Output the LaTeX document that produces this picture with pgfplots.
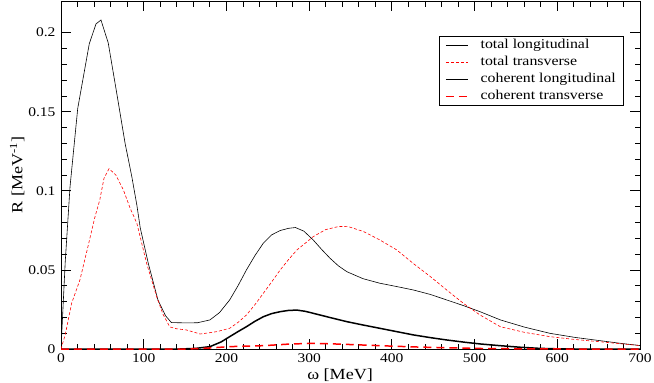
\documentclass[border=0pt]{standalone}
\usepackage{pgfplots}
\pgfplotsset{compat=1.18}
\usepackage{fontspec}
\setmainfont{Liberation Serif}[FakeStretch=1.17]
\newcommand{\legfont}{\fontsize{13.6}{15}\selectfont}
\newcommand{\labfont}{\fontsize{15.5}{17}\selectfont}
\begin{document}
\begin{tikzpicture}
\begin{axis}[
    name=ax,
    scale only axis,
    width=579bp, height=348bp,
    xmin=0, xmax=700, ymin=0, ymax=0.22,
    xtick={0,100,...,700},
    ytick={0,0.05,0.1,0.15,0.2},
    minor x tick num=4, minor y tick num=4,
    tick align=inside,
    major tick length=10bp, minor tick length=5.5bp,
    tick style={black, line width=0.8pt},
    axis line style={line width=0.9pt},
    /pgf/number format/assume math mode=true,
    yticklabel style={/pgf/number format/fixed, /pgf/number format/precision=2, xshift=-2bp},
    xticklabel style={yshift=-1bp},
    scaled y ticks=false,
    ticklabel style={font=\fontsize{13.3}{15}\selectfont},
    xlabel={\labfont ω [MeV]},
    ylabel={\labfont R [MeV\textsuperscript{-1}]},
    xlabel style={at={(0.482,0)}, anchor=base, yshift=-30bp},
    ylabel style={yshift=-3bp},
    legend style={at={(0.9706,0.899)}, anchor=north east, draw=black,
        row sep=2bp, inner xsep=6bp, inner ysep=1.5bp,
        nodes={inner sep=1bp, text height=10bp, text depth=3bp}},
    legend image code/.code={\draw[#1] (0bp,0bp) -- (22bp,0bp); \path (33bp,0bp);},
    legend cell align=left,
]
\addplot[black, line width=0.6pt] coordinates {
(0,0) (5.1,0.055) (10.9,0.1025) (20.2,0.152) (34.2,0.193) (42.3,0.2055) (48.3,0.208)
(57.1,0.1935) (67.3,0.162) (77.5,0.130) (85.6,0.109) (91.7,0.091) (95.8,0.0766)
(105.6,0.054) (117.2,0.031) (126.4,0.021) (133.5,0.0167) (151.9,0.0165) (165.1,0.0166)
(180.1,0.0184) (191.6,0.023) (203.9,0.031) (214,0.040) (224.2,0.050) (234.4,0.059)
(244.6,0.0669) (254.8,0.0722) (265,0.0749) (275.2,0.0763) (283.4,0.0768) (293.6,0.0745)
(304.8,0.069) (315,0.063) (325.2,0.0574) (335.3,0.0526) (345.5,0.0489) (364.9,0.0445)
(385.3,0.0416) (405.7,0.0395) (426.1,0.0373) (446.5,0.0345) (466.3,0.031) (486.2,0.0275)
(506.6,0.0236) (531.1,0.0184) (560.6,0.0138) (591.2,0.0099) (621.8,0.0073) (651.3,0.0053)
(677.8,0.0035) (700,0.0022)};
\addlegendentry{\legfont total longitudinal}
\addplot[red, line width=0.6pt, dash pattern=on 3pt off 2pt] coordinates {
(0,0) (5.1,0.009) (12.9,0.029) (22.9,0.0437) (32.6,0.0648) (40.8,0.083) (46.9,0.0943)
(52,0.108) (58.1,0.114) (66.3,0.110) (75.4,0.1006) (83.6,0.089) (91.7,0.0795)
(103.6,0.054) (115.7,0.033) (123.3,0.022) (131.5,0.014) (139.6,0.0128) (151.9,0.012)
(168.2,0.0095) (174.3,0.0099) (188.6,0.011) (203.9,0.0131) (214,0.0168) (224.2,0.0215)
(234.4,0.028) (244.6,0.0352) (254.8,0.0425) (265,0.050) (275.2,0.0566) (285.4,0.0627)
(295.6,0.067) (304.8,0.071) (320,0.0755) (335.3,0.0774) (346.6,0.0775) (365.5,0.0743)
(385.3,0.069) (405.7,0.0627) (426.1,0.054) (446.5,0.0458) (466.3,0.0373) (486.2,0.029)
(506.6,0.0215) (531.1,0.0141) (560.6,0.0105) (591.2,0.0078) (621.8,0.006) (651.3,0.0046)
(683,0.003) (700,0.0022)};
\addlegendentry{\legfont total transverse}
\addplot[black, line width=1.5pt] coordinates {
(0,0) (143.7,0) (163.1,0.0004) (180.1,0.0015) (193.7,0.0045) (203.9,0.0078) (214,0.011)
(224.2,0.0141) (234.4,0.0175) (244.6,0.0204) (254.8,0.0224) (265,0.0236) (275.2,0.0244)
(285.4,0.0246) (295.6,0.0238) (304.8,0.0226) (325.2,0.0199) (345.5,0.0173) (364.9,0.0152)
(385.3,0.0131) (405.7,0.011) (426.1,0.0089) (446.5,0.0072) (466.3,0.0057) (486.2,0.0044)
(506.6,0.0032) (531.1,0.0021) (555.5,0.0011) (579,0.0004) (601.4,0.0001) (621.8,0) (700,0)};
\addlegendentry{\legfont coherent longitudinal}
\addplot[red, line width=1.5pt, dash pattern=on 8pt off 5pt] coordinates {
(0,0) (152.9,0) (178.4,0.0006) (203.9,0.0015) (244.6,0.0021) (275.2,0.0031) (304.8,0.0036)
(336.4,0.0031) (385.3,0.0021) (428.1,0.0013) (465.8,0.0008) (509.7,0.0003) (560.6,0.0001)
(611.6,0) (700,0)};
\addlegendentry{\legfont coherent transverse}
\end{axis}
\pgfresetboundingbox
\path[use as bounding box] ([xshift=-61bp,yshift=-33bp]ax.south west) rectangle ([xshift=14bp,yshift=1bp]ax.north east);
\end{tikzpicture}
\end{document}
